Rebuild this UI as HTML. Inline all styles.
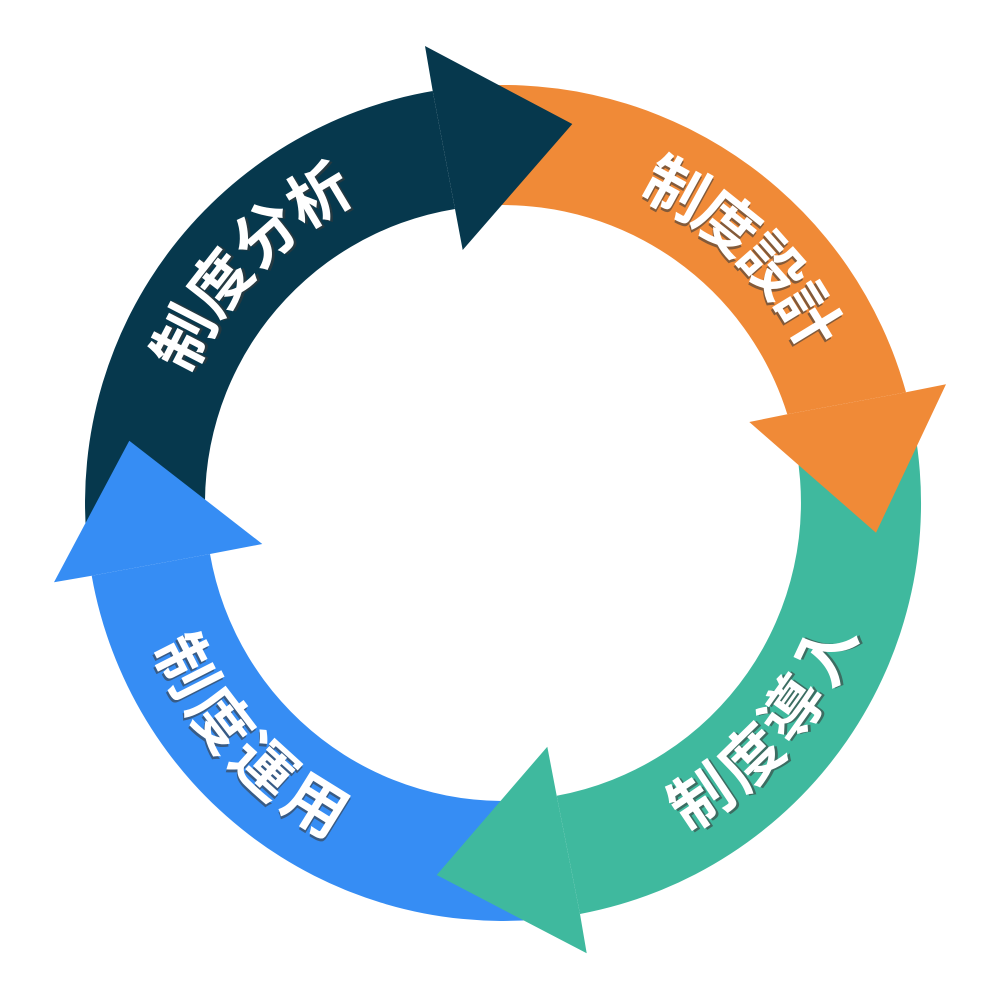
<!DOCTYPE html>
<html>
<head>
<meta charset="utf-8">
<style>
  html, body { margin: 0; padding: 0; background: #ffffff; }
  svg { display: block; }
  .t { font-family: "Liberation Sans", "Noto Sans CJK JP", sans-serif; font-size: 62px; font-weight: bold; text-anchor: middle; dominant-baseline: central; }
  .w { fill: #ffffff; }
  .s { fill: #3a3a3a; fill-opacity: 0.6; }
</style>
</head>
<body>
<svg width="1000" height="1000" viewBox="0 0 1000 1000" xmlns="http://www.w3.org/2000/svg">
  <rect width="1000" height="1000" fill="#ffffff"/>
  <!-- bodies -->
  <path d="M86.6,539.4 A418,418 0 0 1 432.7,91 L455,209 A298,298 0 0 0 206.1,529 Z" fill="#06384d"/>
  <path d="M488.4,85.25 A418,418 0 0 1 906,392.3 L787.3,414.3 A298,298 0 0 0 492.6,205.2 Z" fill="#f08a37"/>
  <path d="M914.65,430.4 A418,418 0 0 1 580,914 L556.7,795.7 A298,298 0 0 0 796.5,451.25 Z" fill="#3fb99e"/>
  <path d="M539.4,919.4 A418,418 0 0 1 91.7,575.7 L210,554 A298,298 0 0 0 529,799.9 Z" fill="#368df4"/>
  <!-- heads -->
  <polygon points="432.7,91 425,46 572.3,124 462.7,250 455,209" fill="#06384d"/>
  <polygon points="906,392.3 946,384.3 876,532.7 749.3,422 787.3,414.3" fill="#f08a37"/>
  <polygon points="580,914 586.7,953.3 436.7,875 547.3,746.7 556.7,795.7" fill="#3fb99e"/>
  <polygon points="91.7,575.7 54,582.3 129.3,440.7 262.3,544 210,554" fill="#368df4"/>

  <!-- 制度分析 -->
  <g transform="translate(185.8,339.2) rotate(297.3)"><text class="t s" x="1.5" y="2.5">制</text><text class="t w" x="0" y="0">制</text></g>
  <g transform="translate(221.3,283.7) rotate(307.9)"><text class="t s" x="1.5" y="2.5">度</text><text class="t w" x="0" y="0">度</text></g>
  <g transform="translate(266.5,235.6) rotate(318.5)"><text class="t s" x="1.5" y="2.5">分</text><text class="t w" x="0" y="0">分</text></g>
  <g transform="translate(319.7,196.7) rotate(329.1)"><text class="t s" x="1.5" y="2.5">析</text><text class="t w" x="0" y="0">析</text></g>

  <!-- 制度設計 -->
  <g transform="translate(675,190.2) rotate(28.8)"><text class="t s" x="1.5" y="2.5">制</text><text class="t w" x="0" y="0">制</text></g>
  <g transform="translate(726.2,224.4) rotate(38.7)"><text class="t s" x="1.5" y="2.5">度</text><text class="t w" x="0" y="0">度</text></g>
  <g transform="translate(770.8,266.9) rotate(48.6)"><text class="t s" x="1.5" y="2.5">設</text><text class="t w" x="0" y="0">設</text></g>
  <g transform="translate(807.4,316.5) rotate(58.5)"><text class="t s" x="1.5" y="2.5">計</text><text class="t w" x="0" y="0">計</text></g>

  <!-- 制度導入 -->
  <g transform="translate(702.1,799) rotate(-33.9)"><text class="t s" x="1.5" y="2.5">制</text><text class="t w" x="0" y="0">制</text></g>
  <g transform="translate(752.3,758.5) rotate(-44.3)"><text class="t s" x="1.5" y="2.5">度</text><text class="t w" x="0" y="0">度</text></g>
  <g transform="translate(794,709.8) rotate(-54.6)"><text class="t s" x="1.5" y="2.5">導</text><text class="t w" x="0" y="0">導</text></g>
  <g transform="translate(826.6,653.9) rotate(-65)"><text class="t s" x="1.5" y="2.5">入</text><text class="t w" x="0" y="0">入</text></g>

  <!-- 制度運用 -->
  <g transform="translate(184.6,666.5) rotate(63.1)"><text class="t s" x="1.5" y="2.5">制</text><text class="t w" x="0" y="0">制</text></g>
  <g transform="translate(219.1,721) rotate(52.7)"><text class="t s" x="1.5" y="2.5">度</text><text class="t w" x="0" y="0">度</text></g>
  <g transform="translate(262.7,768) rotate(42.3)"><text class="t s" x="1.5" y="2.5">運</text><text class="t w" x="0" y="0">運</text></g>
  <g transform="translate(314.9,806.4) rotate(31.8)"><text class="t s" x="1.5" y="2.5">用</text><text class="t w" x="0" y="0">用</text></g>
</svg>
</body>
</html>
